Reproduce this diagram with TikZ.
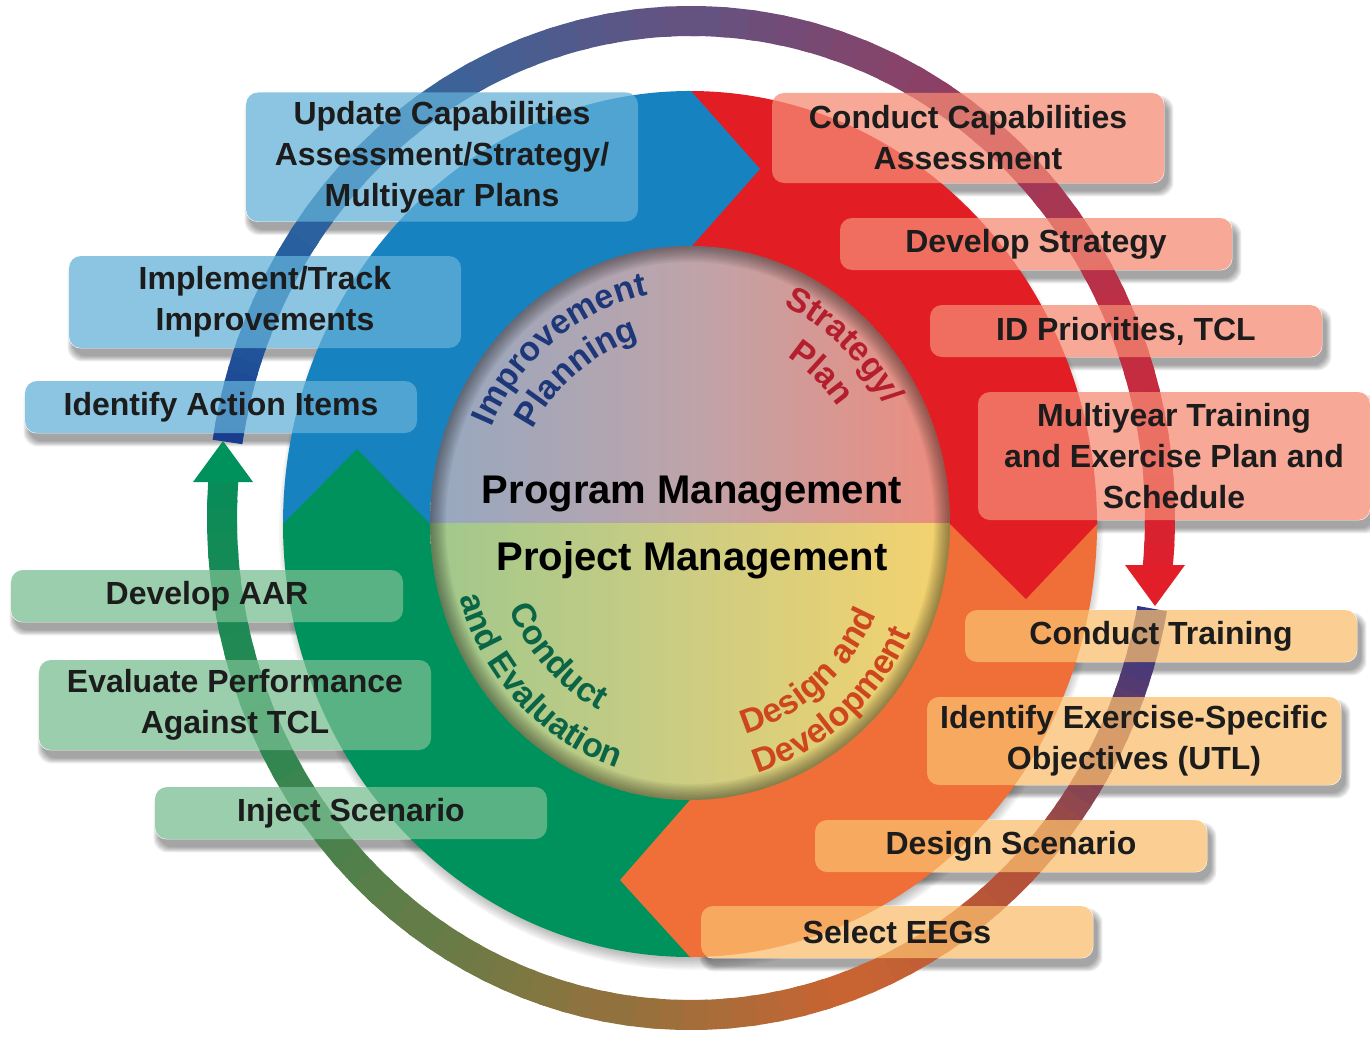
\documentclass[tikz,border=0pt]{standalone}
\usepackage{fontspec}
\setmainfont{Liberation Sans}
\usetikzlibrary{calc,decorations.text}

\pgfdeclarelayer{shade}
\pgfdeclarelayer{blank}
\pgfdeclarelayer{disk}
\pgfsetlayers{shade,blank,disk,main}

\definecolor{secblue}{RGB}{22,130,192}
\definecolor{secred}{RGB}{226,30,36}
\definecolor{secorange}{RGB}{240,110,55}
\definecolor{secgreen}{RGB}{0,146,92}
\definecolor{boxblue}{RGB}{99,177,216}
\definecolor{boxred}{RGB}{246,138,116}
\definecolor{boxorange}{RGB}{250,190,110}
\definecolor{boxgreen}{RGB}{120,190,145}
\definecolor{boxtext}{RGB}{28,28,28}
\definecolor{pmleft}{RGB}{150,168,192}
\definecolor{pmmid}{RGB}{190,164,170}
\definecolor{pmright}{RGB}{238,140,125}
\definecolor{prleft}{RGB}{160,200,140}
\definecolor{prmid}{RGB}{205,205,130}
\definecolor{prright}{RGB}{245,210,110}
\definecolor{impcol}{RGB}{30,55,120}
\definecolor{strcol}{RGB}{180,30,45}
\definecolor{evacol}{RGB}{10,100,70}
\definecolor{descol}{RGB}{205,70,30}
\definecolor{ringA}{RGB}{25,60,140}
\definecolor{ringB}{RGB}{35,95,160}
\definecolor{ringC}{RGB}{55,100,155}
\definecolor{ringD}{RGB}{100,82,128}
\definecolor{ringE}{RGB}{145,62,98}
\definecolor{ringF}{RGB}{195,45,65}
\definecolor{ringG}{RGB}{220,32,45}
\definecolor{ringH}{RGB}{45,55,140}
\definecolor{ringI}{RGB}{115,62,92}
\definecolor{ringJ}{RGB}{180,82,58}
\definecolor{ringK}{RGB}{200,100,50}
\definecolor{ringL}{RGB}{145,114,62}
\definecolor{ringM}{RGB}{100,125,72}
\definecolor{ringN}{RGB}{45,135,82}
\definecolor{ringO}{RGB}{10,140,88}
\definecolor{arrowred}{RGB}{226,30,40}
\definecolor{arrowgreen}{RGB}{0,146,92}

\newcommand{\boxfont}{\fontsize{16}{20.5}\selectfont\bfseries}
\newcommand{\arcfont}{\fontsize{17}{17}\selectfont\bfseries}
\newcommand{\midfont}{\fontsize{20}{24}\selectfont\bfseries}

\begin{document}
\begin{tikzpicture}[x=0.5pt,y=-0.5pt,
    taskbox/.style={rounded corners=6pt,minimum width=196pt,minimum height=26pt,inner sep=0pt,align=center,font=\boxfont,text=boxtext,fill opacity=0.74,text opacity=1},
    bluebox/.style={taskbox,fill=boxblue},
    redbox/.style={taskbox,fill=boxred},
    orangebox/.style={taskbox,fill=boxorange},
    greenbox/.style={taskbox,fill=boxgreen},
    arctext/.style 2 args={decorate,decoration={text along path,text align=center,text color=#1,text={|\arcfont|#2}}}]
    \useasboundingbox (0,0) rectangle (1370,1038);

    \node at (442,157) [bluebox,minimum height=64.5pt] (upd) {Update Capabilities\\Assessment/Strategy/\\Multiyear Plans};
    \node at (265,302) [bluebox,minimum height=46pt] (itr) {Implement/Track\\Improvements};
    \node at (221,407) [bluebox] (iai) {Identify Action Items};
    \node at (968,138) [redbox,minimum height=45pt] (cca) {Conduct Capabilities\\Assessment};
    \node at (1036,244) [redbox] (dst) {Develop Strategy};
    \node at (1126,331) [redbox] (idp) {ID Priorities, TCL};
    \node at (1174,456) [redbox,minimum height=64pt] (mty) {Multiyear Training\\and Exercise Plan and\\Schedule};
    \node at (207,596) [greenbox] (aar) {Develop AAR};
    \node at (235,705) [greenbox,minimum height=45pt] (evp) {Evaluate Performance\\Against TCL};
    \node at (351,813) [greenbox] (inj) {Inject Scenario};
    \node at (1161,636) [orangebox] (ctr) {Conduct Training};
    \node at (1134,741) [orangebox,minimum width=207pt,minimum height=44pt] (ies) {Identify Exercise-Specific\\Objectives (UTL)};
    \node at (1011,846) [orangebox] (dsc) {Design Scenario};
    \node at (897,932) [orangebox] (see) {Select EEGs};

    \node at (692,503) [anchor=base,font=\midfont] (prog) {Program Management};
    \node at (692,570) [anchor=base,font=\midfont] (proj) {Project Management};

    \path[arctext={impcol}{Improvement}] (690,523) ++(-170:218 and 232) arc[start angle=-170,end angle=-86,x radius=218,y radius=232];
    \path[arctext={impcol}{Planning}] (690,523) ++(-170:180 and 192) arc[start angle=-170,end angle=-86,x radius=180,y radius=192];
    \path[arctext={strcol}{Strategy/}] (690,523) ++(-90:224 and 239) arc[start angle=-90,end angle=-6,x radius=224,y radius=239];
    \path[arctext={strcol}{Plan}] (690,523) ++(-90:184 and 196) arc[start angle=-90,end angle=-6,x radius=184,y radius=196];
    \path[arctext={evacol}{Conduct}] (690,523) ++(-182:198 and 211) arc[start angle=-182,end angle=-266,x radius=198,y radius=211];
    \path[arctext={evacol}{and Evaluation}] (690,523) ++(-183:241 and 257) arc[start angle=-183,end angle=-267,x radius=241,y radius=257];
    \path[arctext={descol}{Design and}] (690,523) ++(-268:205 and 219) arc[start angle=-268,end angle=-352,x radius=205,y radius=219];
    \path[arctext={descol}{Development}] (690,523) ++(-268:244 and 260) arc[start angle=-268,end angle=-352,x radius=244,y radius=260];

    \begin{pgfonlayer}{shade}
        \foreach \n in {upd,itr,iai,cca,dst,idp,mty,aar,evp,inj,ctr,ies,dsc,see}{
            \foreach \k in {1,...,6}
                \fill[black,opacity=0.07,rounded corners=7pt] ($(\n.north west)+(5-\k,9-\k)$) rectangle ($(\n.south east)+(3+\k,7+\k)$);
        }
        \foreach \k [evaluate=\k as \rx using 400+1.5*\k,evaluate=\k as \ry using 427+1.5*\k] in {1,...,8}
            \fill[black,opacity=0.035] (691,531) ellipse [x radius=\rx,y radius=\ry];
    \end{pgfonlayer}

    \begin{pgfonlayer}{blank}
        \foreach \n in {upd,itr,iai,cca,dst,idp,mty,aar,evp,inj,ctr,ies,dsc,see}
            \fill[white,rounded corners=6pt] (\n.north west) rectangle (\n.south east);
    \end{pgfonlayer}

    \begin{pgfonlayer}{disk}
        \fill[secblue] (690,524) -- (283,524) arc[start angle=180,end angle=270,x radius=407,y radius=433] -- cycle;
        \fill[secred] (690,524) -- (690,91) arc[start angle=270,end angle=360,x radius=407,y radius=433] -- cycle;
        \fill[secorange] (690,524) -- (1097,524) arc[start angle=0,end angle=90,x radius=407,y radius=433] -- cycle;
        \fill[secgreen] (690,524) -- (690,957) arc[start angle=90,end angle=180,x radius=407,y radius=433] -- cycle;
        \fill[secblue] (686,91) -- (691,91) -- (760,169) -- (691,247) -- (686,247) -- cycle;
        \fill[secred] (950,520) -- (950,524) -- (1026,599) -- (1097,524) -- (1097,520) -- cycle;
        \fill[secorange] (694,800) -- (690,800) -- (620,880) -- (690,957) -- (694,957) -- cycle;
        \fill[secgreen] (283,528) -- (283,524) -- (357,449) -- (430,524) -- (430,528) -- cycle;

        \begin{scope}
            \clip (690,523) ellipse [x radius=260,y radius=277];
            \shade[left color=pmleft,right color=pmright,middle color=pmmid] (430,240) rectangle (950,523);
            \shade[left color=prleft,right color=prright,middle color=prmid] (430,523) rectangle (950,806);
            \foreach \k in {1,...,10}
                \draw[black,opacity=0.045,line width=1.6pt*\k] (690,523) ellipse [x radius=260,y radius=277];
        \end{scope}

        \foreach \ta/\tb/\ca/\cb in {171.2/155/ringA/ringB,155/125/ringB/ringC,125/90/ringC/ringD,90/55/ringD/ringE,55/20/ringE/ringF,20/-5.4/ringF/ringG,
                                     -10.5/-27/ringH/ringI,-27/-45/ringI/ringJ,-45/-70/ringJ/ringK,-70/-100/ringK/ringL,-100/-125/ringL/ringM,-125/-155/ringM/ringN,-155/-184.2/ringN/ringO}{
            \foreach \k in {0,...,9}{
                \pgfmathsetmacro\sa{-(\ta+(\tb-\ta)*\k/10)}
                \pgfmathsetmacro\sb{-(\ta+(\tb-\ta)*(\k+1.3)/10)}
                \pgfmathtruncatemacro\pc{\k*100/9}
                \colorlet{ringnow}{\cb!\pc!\ca}
                \draw[ringnow,line width=15pt] (691,518) ++(\sa:469 and 497) arc[start angle=\sa,end angle=\sb,x radius=469,y radius=497];
            }
        }
        \coordinate (redtip) at (1155,606);
        \coordinate (greentip) at (223,441);
        \fill[arrowred] (1125,565) -- (1185,565) -- (redtip) -- cycle;
        \fill[arrowgreen] (193,482) -- (253,482) -- (greentip) -- cycle;
    \end{pgfonlayer}
\end{tikzpicture}
\end{document}
